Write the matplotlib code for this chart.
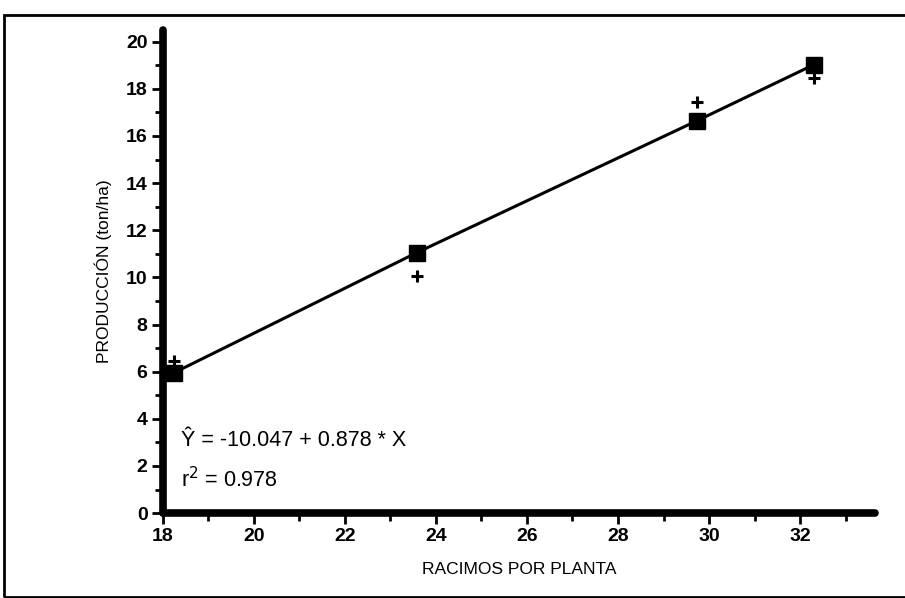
import matplotlib
matplotlib.use('Agg')
import matplotlib.pyplot as plt
from matplotlib.patches import Rectangle
from matplotlib.ticker import MultipleLocator

plt.rcParams['font.family'] = ['Liberation Sans', 'DejaVu Sans']

# Racimos por planta vs produccion
racimos = [18.24, 23.58, 29.74, 32.30]
prod_estimada = [5.95, 11.05, 16.65, 19.02]   # squares joined by the line
prod_observada = [6.45, 10.05, 17.45, 18.45]  # "+" markers

x_ticks = [18, 20, 22, 24, 26, 28, 30, 32]
y_ticks = [0, 2, 4, 6, 8, 10, 12, 14, 16, 18, 20]

fig = plt.figure(figsize=(9.05, 5.98), dpi=100)
ax = fig.add_axes([0.180, 0.142, 0.787, 0.808])

ax.plot(racimos, prod_estimada, color='black', linewidth=2.2, marker='s',
        markersize=11, markerfacecolor='black', zorder=3)
ax.plot(racimos, prod_observada, linestyle='none', marker='+', color='black',
        markersize=9, markeredgewidth=2.2, zorder=3)

ax.set_xlim(18, 33.65)
ax.set_ylim(0, 20.5)
ax.set_xticks(x_ticks)
ax.set_yticks(y_ticks)
ax.xaxis.set_minor_locator(MultipleLocator(1))
ax.yaxis.set_minor_locator(MultipleLocator(1))

for side in ['top', 'right']:
    ax.spines[side].set_visible(False)
for side in ['left', 'bottom']:
    ax.spines[side].set_linewidth(5.5)
    ax.spines[side].set_capstyle('round')

ax.tick_params(which='major', direction='out', length=8, width=2,
               labelsize=14, pad=3)
ax.tick_params(which='minor', direction='out', length=6, width=2)
for lbl in ax.get_xticklabels() + ax.get_yticklabels():
    lbl.set_fontweight('bold')

ax.set_xlabel('RACIMOS POR PLANTA', fontsize=12.5, labelpad=12)
ax.set_ylabel('PRODUCCIÓN (ton/ha)', fontsize=12.5, labelpad=10)

ax.text(18.4, 2.85, 'Ŷ = -10.047 + 0.878 * X', fontsize=15.5)
ax.text(18.4, 1.1, 'r$^{2}$ = 0.978', fontsize=15.5)

# scanned page frame
fig.add_artist(Rectangle((0.004, 0.002), 1.2, 0.973, transform=fig.transFigure,
                         fill=False, edgecolor='black', linewidth=2))

fig.savefig('out.png', dpi=100)
